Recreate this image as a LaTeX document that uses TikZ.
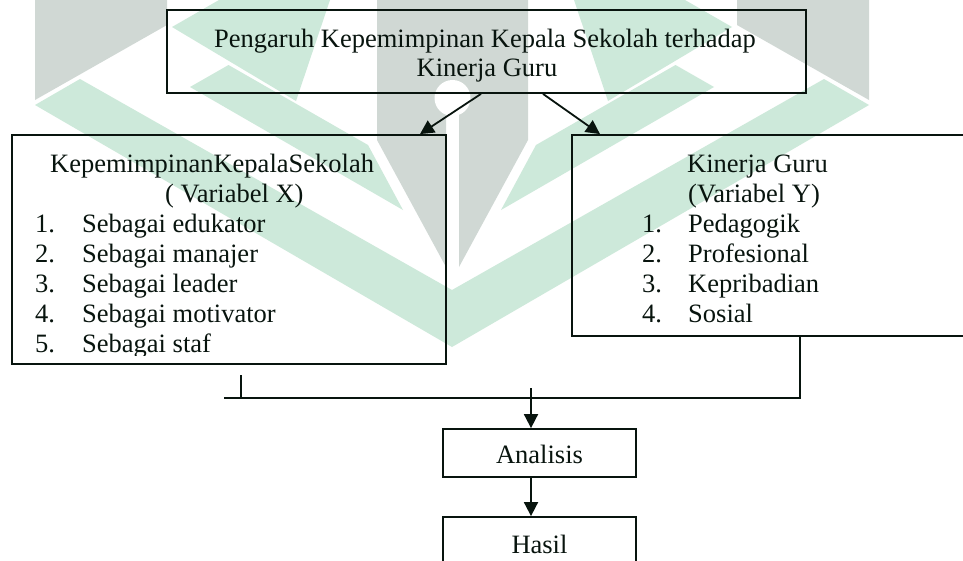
\documentclass[tikz,border=0pt]{standalone}
\usepackage{fontspec}
\setmainfont{Liberation Serif}
\usetikzlibrary{arrows.meta,calc}
\definecolor{wmgreen}{RGB}{205,233,218}
\definecolor{wmgrey}{RGB}{208,216,212}
\definecolor{ink}{RGB}{8,20,14}
\tikzset{
  boxnode/.style={draw=ink, line width=1.8pt, inner sep=0pt},
  ltxt/.style={inner sep=0pt, anchor=base west, text=ink},
  ctxt/.style={inner sep=0pt, anchor=base, text=ink},
  conn/.style={draw=ink, line width=1.8pt},
  arr/.style={draw=ink, line width=1.8pt, -{Triangle[length=14pt,width=14pt]}},
}
\begin{document}
\begin{tikzpicture}[x=1pt,y=-1pt,font=\fontsize{26.5}{30}\selectfont]
\clip (0,0) rectangle (963,560);
\fill[white] (0,0) rectangle (963,560);
% watermark
\fill[wmgrey] (35,0) -- (167,0) -- (167,25) -- (35,100) -- cycle;
\fill[wmgrey] (869,0) -- (737,0) -- (737,25) -- (869,100) -- cycle;
\fill[wmgrey] (377,0) -- (528,0) -- (528,140) -- (459,267) -- (459,98) -- (446,98) -- (446,267) -- (377,140) -- cycle;
\fill[white] (452.5,98) circle[radius=18pt];
\fill[wmgreen] (35,105) -- (452,347) -- (869,105) -- (824,79) -- (452,290) -- (80,79) -- cycle;
\fill[wmgreen] (190,87) -- (228.5,65) -- (368,145) -- (403,210) -- cycle;
\fill[wmgreen] (714,87) -- (675.5,65) -- (536,145) -- (501,210) -- cycle;
\fill[wmgreen] (172,27) -- (219,0) -- (330,0) -- (296,101) -- cycle;
\fill[wmgreen] (732,27) -- (685,0) -- (574,0) -- (608,101) -- cycle;
% boxes
\node[boxnode, minimum width=639pt, minimum height=83pt] (top) at (486.5,51.5) {};
\node[boxnode, minimum width=434pt, minimum height=229pt] (lbox) at (229,249.5) {};
\node[boxnode, minimum width=403pt, minimum height=201pt] (rbox) at (773.5,235.5) {};
\node[boxnode, minimum width=193pt, minimum height=48pt] (ana) at (539.5,453) {};
\node[boxnode, minimum width=193pt, minimum height=58pt] (has) at (539.5,546) {};
% texts
\node[ctxt] (t1) at (485,47) {Pengaruh Kepemimpinan Kepala Sekolah terhadap};
\node[ctxt] (t2) at (487,76) {Kinerja Guru};
\node[ltxt] (lh1) at (50,172) {KepemimpinanKepalaSekolah};
\node[ltxt] (lh2) at (165,202) {( Variabel X)};
\node[ltxt] (ln1) at (35,232) {1.};
\node[ltxt] (li1) at (82,232) {Sebagai edukator};
\node[ltxt] (ln2) at (35,262) {2.};
\node[ltxt] (li2) at (82,262) {Sebagai manajer};
\node[ltxt] (ln3) at (35,292) {3.};
\node[ltxt] (li3) at (82,292) {Sebagai leader};
\node[ltxt] (ln4) at (35,322) {4.};
\node[ltxt] (li4) at (82,322) {Sebagai motivator};
\begin{scope}
\clip (0,0) rectangle (963,355.5);
\node[ltxt] (ln5) at (35,352) {5.};
\node[ltxt] (li5) at (82,352) {Sebagai staf};
\end{scope}
\node[ltxt] (rh1) at (687,172) {Kinerja Guru};
\node[ltxt] (rh2) at (688,202) {(Variabel Y)};
\node[ltxt] (rn1) at (642,232) {1.};
\node[ltxt] (ri1) at (688,232) {Pedagogik};
\node[ltxt] (rn2) at (642,262) {2.};
\node[ltxt] (ri2) at (688,262) {Profesional};
\node[ltxt] (rn3) at (642,292) {3.};
\node[ltxt] (ri3) at (688,292) {Kepribadian};
\node[ltxt] (rn4) at (642,322) {4.};
\node[ltxt] (ri4) at (688,322) {Sosial};
\node[ctxt] (at) at (539.5,463) {Analisis};
\node[ctxt] (ht) at (539.5,553) {Hasil};
% connectors
\draw[arr] ([xshift=-5.5pt]top.south) -- ([xshift=191pt]lbox.north);
\draw[arr] ([xshift=56.5pt]top.south) -- ([xshift=-173.5pt]rbox.north);
\coordinate (tickTop) at (241,375);
\coordinate (tickBot) at (241,398);
\coordinate (jl) at (224,398);
\coordinate (aStart) at (531,388);
\draw[conn] (tickTop) -- (tickBot);
\draw[conn] ([xshift=26.5pt]rbox.south) |- (jl);
\draw[arr] (aStart) -- (aStart |- ana.north);
\draw[arr] (aStart |- ana.south) -- (aStart |- has.north);
\end{tikzpicture}
\end{document}
